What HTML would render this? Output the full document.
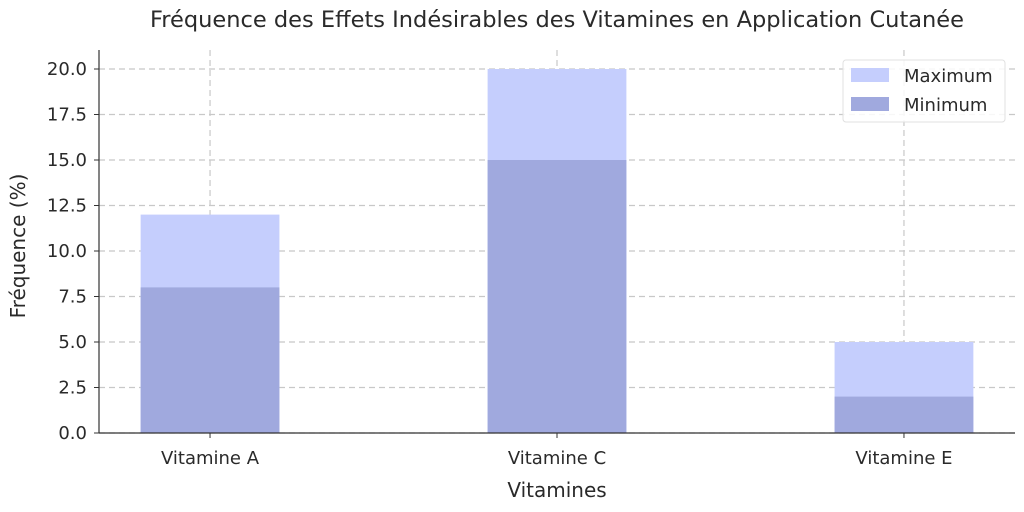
<!DOCTYPE html>
<html><head><meta charset="utf-8"><style>
body{margin:0;background:#fff;}
svg text{font-family:"DejaVu Sans","Liberation Sans",sans-serif;fill:#2a2a2a;}
</style></head><body>
<svg id="c" width="1024" height="507" xmlns="http://www.w3.org/2000/svg">
<text x="557" y="27" font-size="22.5" text-anchor="middle">Fréquence des Effets Indésirables des Vitamines en Application Cutanée</text>
<g id="grid"></g><g id="bars"></g><g id="axes"></g>
<text x="557" y="497" font-size="20" text-anchor="middle">Vitamines</text>
<text transform="translate(25,246) rotate(-90)" font-size="20" text-anchor="middle">Fréquence (%)</text>
<g>
<rect x="843" y="60" width="162" height="62" rx="3" fill="#fff" fill-opacity="0.85" stroke="#e0e0e0"/>
<rect x="851" y="68" width="38" height="14" fill="#c5cefd"/>
<text x="904" y="82" font-size="18">Maximum</text>
<rect x="851" y="97" width="38" height="14" fill="#a0a9de"/>
<text x="904" y="111" font-size="18">Minimum</text>
</g>
</svg>
<script>
const categories=["Vitamine A","Vitamine C","Vitamine E"];
const maxValues=[12,20,5];
const minValues=[8,15,2];
const yTicks=[0,2.5,5,7.5,10,12.5,15,17.5,20];
const NS="http://www.w3.org/2000/svg";
const L=99,R=1015,T=50,B=433;
const xs=i=>L+(i+0.32)/2.64*(R-L);
const ys=v=>B-v/20*(B-69);
const bw=0.4/2.64*(R-L);
function mk(t,a,p){const e=document.createElementNS(NS,t);for(const k in a)e.setAttribute(k,a[k]);p.appendChild(e);return e;}
const g=document.getElementById('grid'),b=document.getElementById('bars'),ax=document.getElementById('axes');
yTicks.forEach(v=>{
 const l=mk('line',{x1:L,x2:R,y1:ys(v),y2:ys(v),stroke:'#c8c8c8','stroke-dasharray':'6,4','stroke-width':1.2},g);
 
 mk('line',{x1:L-5,x2:L,y1:ys(v),y2:ys(v),stroke:'#333'},ax);
 const t=mk('text',{x:L-12,y:ys(v)+6,'font-size':18,'text-anchor':'end'},ax);t.textContent=v.toFixed(1);
 
});
categories.forEach((c,i)=>{
 const x=xs(i);
 const gl=mk('line',{x1:x,x2:x,y1:T,y2:B,stroke:'#c8c8c8','stroke-dasharray':'6,4','stroke-width':1.2},g);
 
 const r1=mk('rect',{x:x-bw/2,y:ys(maxValues[i]),width:bw,height:B-ys(maxValues[i]),fill:'#c5cefd'},b);
 
 const r2=mk('rect',{x:x-bw/2,y:ys(minValues[i]),width:bw,height:B-ys(minValues[i]),fill:'#a0a9de'},b);
 
 mk('line',{x1:x,x2:x,y1:B,y2:B+5,stroke:'#333'},ax);
 const t=mk('text',{x:x,y:B+31,'font-size':18,'text-anchor':'middle'},ax);t.textContent=c;
 
});
const s1=mk('line',{x1:L,x2:L,y1:T,y2:B,stroke:'#333','stroke-width':1.2},ax);

const s2=mk('line',{x1:L,x2:R,y1:B,y2:B,stroke:'#333','stroke-width':1.2},ax);

</script>
</body></html>
